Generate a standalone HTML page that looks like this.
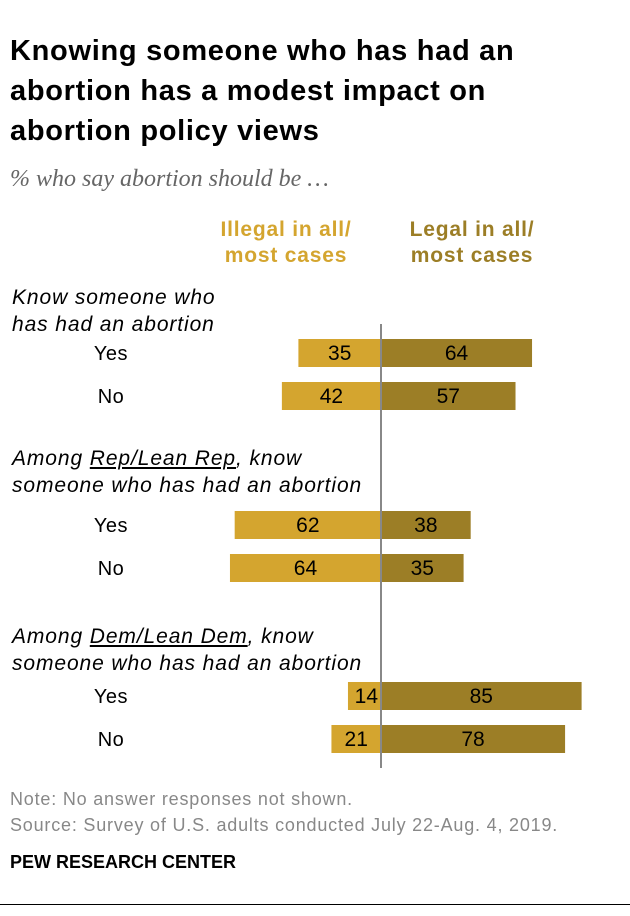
<!DOCTYPE html>
<html><head><meta charset="utf-8"><style>
body{margin:0;width:630px;height:916px;background:#fff;font-family:"Liberation Sans",sans-serif;position:relative;overflow:hidden}
.t{position:absolute;margin:0}
</style></head><body>
<div class="t" style="left:10px;top:31px;font-size:29px;letter-spacing:0.7px;font-weight:bold;line-height:40px;color:#000;width:580px">Knowing someone who has had an<br>abortion has a modest impact on<br>abortion policy views</div>
<div class="t" style="left:10px;top:166px;font-family:'Liberation Serif',serif;font-style:italic;font-size:24px;color:#666">% who say abortion should be …</div>
<div class="t" style="left:186px;top:217px;width:200px;text-align:center;font-size:21px;letter-spacing:0.8px;font-weight:bold;line-height:26px;color:#D4A52F">Illegal in all/<br>most cases</div>
<div class="t" style="left:372px;top:217px;width:200px;text-align:center;font-size:21px;letter-spacing:0.8px;font-weight:bold;line-height:26px;color:#9C7E26">Legal in all/<br>most cases</div>
<svg id="chart" width="630" height="916" style="position:absolute;left:0;top:0" font-family="Liberation Sans, sans-serif"></svg>
<div class="t" style="left:10px;top:789px;font-size:18px;letter-spacing:0.8px;color:#888">Note: No answer responses not shown.</div>
<div class="t" style="left:10px;top:815px;font-size:18px;letter-spacing:0.8px;color:#888">Source: Survey of U.S. adults conducted July 22-Aug. 4, 2019.</div>
<div class="t" style="left:10px;top:852px;font-size:18px;font-weight:bold;color:#000">PEW RESEARCH CENTER</div>
<div class="t" style="left:0;top:904px;width:630px;height:1px;background:#000"></div>
<script>
const groups=["Know someone who|has had an abortion","Among <u>Rep/Lean Rep</u>, know|someone who has had an abortion","Among <u>Dem/Lean Dem</u>, know|someone who has had an abortion"];
const rowLabels=["Yes","No","Yes","No","Yes","No"];
const illegal=[35,42,62,64,14,21];
const legal=[64,57,38,35,85,78];
const svg=document.getElementById('chart');
const NS='http://www.w3.org/2000/svg';
const cx=381,k=2.36,bh=28;
const rowY=[339,382,511,554,682,725];
const groupY=[284,445,623];
function x(v){return v*k;}
function el(t,a){const e=document.createElementNS(NS,t);for(const n in a)e.setAttribute(n,a[n]);svg.appendChild(e);return e;}
groups.forEach((g,i)=>{
 const d=document.createElement('div');
 d.className='t';
 
 
 d.style.cssText='left:12px;top:'+groupY[i]+'px;font-size:21px;letter-spacing:0.9px;font-style:italic;line-height:27px;color:#000';
 d.innerHTML=g.replace('|','<br>');
 document.body.appendChild(d);
});
rowLabels.forEach((l,i)=>{
 const y=rowY[i];
 const t=el('text',{x:111,y:y+bh/2+7,'text-anchor':'middle','font-size':20,'letter-spacing':0.5,fill:'#000'});t.textContent=l;
 
 
 const a=el('rect',{x:cx-x(illegal[i]),y:y,width:x(illegal[i]),height:bh,fill:'#D4A52F'});
 
 
 const b=el('rect',{x:cx,y:y,width:x(legal[i]),height:bh,fill:'#9C7E26'});
 
 
 const w1=x(illegal[i]);
 const ta=el('text',{x:w1<40?cx-3:cx-w1/2,y:y+bh/2+7,'text-anchor':w1<40?'end':'middle','font-size':21,fill:'#000'});ta.textContent=illegal[i];
 
 
 const tb=el('text',{x:cx+x(legal[i])/2,y:y+bh/2+7,'text-anchor':'middle','font-size':21,fill:'#000'});tb.textContent=legal[i];
 
 
});
const ln=el('line',{x1:cx,x2:cx,y1:324,y2:768,stroke:'#888','stroke-width':2});


</script>
</body></html>
